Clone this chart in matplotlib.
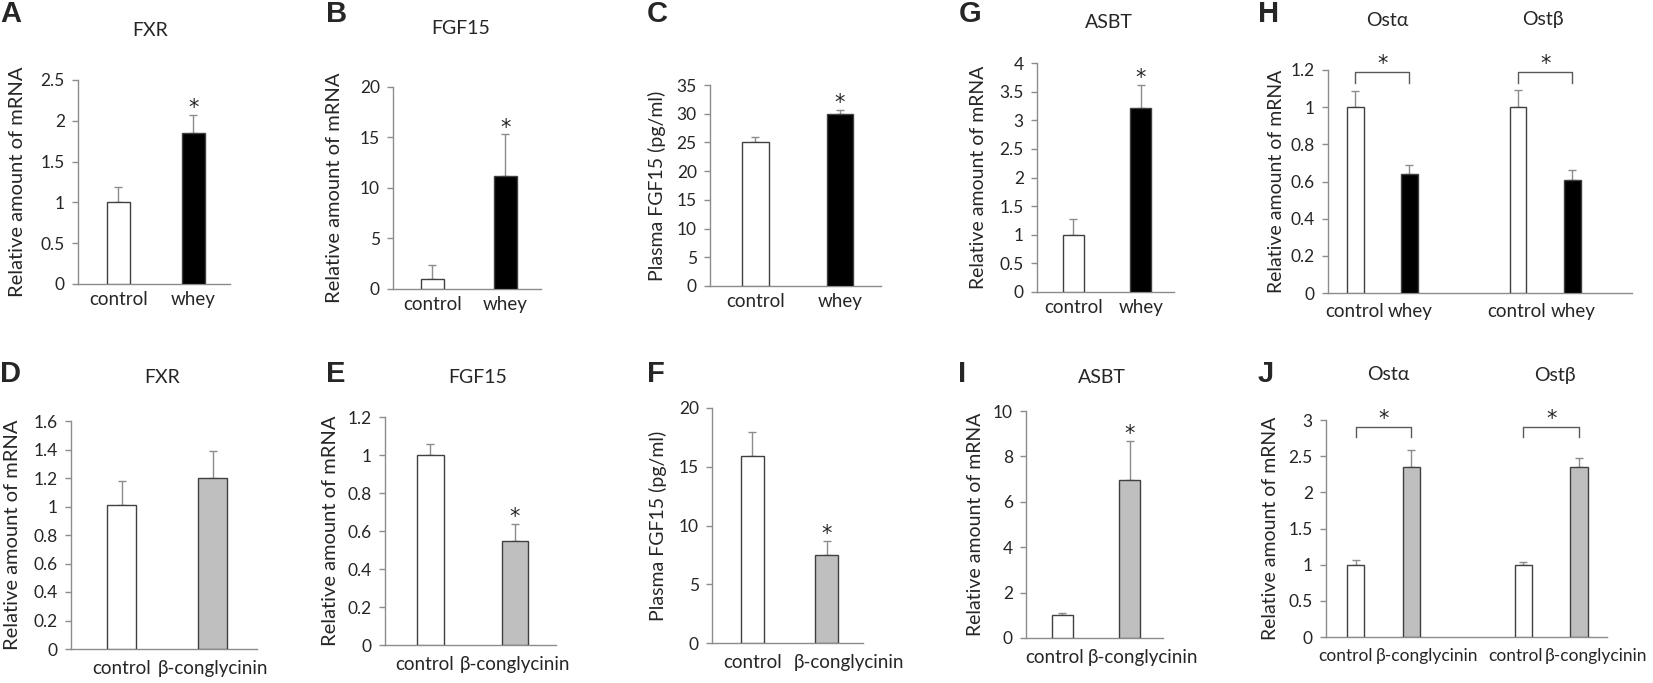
import matplotlib.pyplot as plt
from matplotlib.transforms import ScaledTranslation

plt.rcParams['font.family'] = ['Lato', 'DejaVu Sans']
plt.rcParams['text.color'] = '#262626'
plt.rcParams['axes.labelcolor'] = '#262626'
plt.rcParams['xtick.color'] = '#262626'
plt.rcParams['ytick.color'] = '#262626'

# ---- data ----
whey_groups = ['control', 'whey']
soy_groups = ['control', 'β-conglycinin']
ost_whey_groups = ['control', 'whey', 'control', 'whey']
ost_soy_groups = ['control', 'β-conglycinin', 'control', 'β-conglycinin']

fxr_whey = [1.0, 1.85]
fxr_whey_sem = [0.19, 0.22]
fgf15_whey = [1.0, 11.2]
fgf15_whey_sem = [1.4, 4.1]
plasma_whey = [25.0, 30.0]
plasma_whey_sem = [1.0, 0.6]
asbt_whey = [1.0, 3.21]
asbt_whey_sem = [0.27, 0.41]
ost_whey = [1.0, 0.64, 1.0, 0.61]
ost_whey_sem = [0.087, 0.048, 0.09, 0.054]

fxr_soy = [1.01, 1.2]
fxr_soy_sem = [0.17, 0.19]
fgf15_soy = [1.0, 0.545]
fgf15_soy_sem = [0.06, 0.09]
plasma_soy = [15.9, 7.45]
plasma_soy_sem = [2.1, 1.2]
asbt_soy = [1.0, 6.95]
asbt_soy_sem = [0.08, 1.72]
ost_soy = [1.0, 2.35, 1.0, 2.35]
ost_soy_sem = [0.07, 0.24, 0.03, 0.12]

fxr_whey_ticks = [0, 0.5, 1, 1.5, 2, 2.5]
fgf15_whey_ticks = [0, 5, 10, 15, 20]
plasma_whey_ticks = [0, 5, 10, 15, 20, 25, 30, 35]
asbt_whey_ticks = [0, 0.5, 1, 1.5, 2, 2.5, 3, 3.5, 4]
ost_whey_ticks = [0, 0.2, 0.4, 0.6, 0.8, 1, 1.2]
fxr_soy_ticks = [0, 0.2, 0.4, 0.6, 0.8, 1, 1.2, 1.4, 1.6]
fgf15_soy_ticks = [0, 0.2, 0.4, 0.6, 0.8, 1, 1.2]
plasma_soy_ticks = [0, 5, 10, 15, 20]
asbt_soy_ticks = [0, 2, 4, 6, 8, 10]
ost_soy_ticks = [0, 0.5, 1, 1.5, 2, 2.5, 3]

# significance brackets: (bar i, bar j, lower end, line level)
ost_whey_brackets = [(0, 1, 1.13, 1.19), (2, 3, 1.13, 1.19)]
ost_soy_brackets = [(0, 1, 2.76, 2.90), (2, 3, 2.76, 2.90)]

mrna_label = 'Relative amount of mRNA'
plasma_label = 'Plasma FGF15 (pg/ml)'

# ---- drawing ----
W, H = 1653, 683
fig = plt.figure(figsize=(W / 100, H / 100), dpi=100)

EDGE = '#404040'
AXIS = '#8c8c8c'
ERR = '#8c8c8c'
WHEY_COLORS = ['white', 'black']
SOY_COLORS = ['white', '#bfbfbf']


def star(ax, x, y, dy=5):
    ax.annotate('*', (x, y), xytext=(0, dy), textcoords='offset points',
                ha='center', va='center', fontsize=15, family='DejaVu Sans',
                annotation_clip=False)


def panel(rect, groups, means, sems, colors, yticks, ylabel, ylabel_x,
          pos=None, xlim=(-0.54, 1.49), stars=(), brackets=(), xpad=5,
          ylabel_size=14.5, shifts=None, xsize=13.5):
    l, t, r, b = rect
    ax = fig.add_axes([l / W, 1 - b / H, (r - l) / W, (b - t) / H])
    if pos is None:
        pos = list(range(len(means)))
    ax.bar(pos, means, width=0.31, color=colors, edgecolor=EDGE,
           linewidth=1, zorder=3)
    ax.errorbar(pos, means, yerr=[[0] * len(sems), sems], fmt='none',
                ecolor=ERR, elinewidth=1, capsize=3, capthick=1, zorder=2)
    ax.set_xlim(*xlim)
    ax.set_ylim(0, yticks[-1])
    ax.set_yticks(yticks, [f'{v:g}' for v in yticks])
    ax.set_xticks(pos, groups)
    ax.tick_params(axis='x', length=0, pad=xpad, labelsize=xsize)
    ax.tick_params(axis='y', length=4.5, width=1, color=AXIS, pad=5,
                   labelsize=12.5)
    if shifts:
        for lab, dx in zip(ax.get_xticklabels(), shifts):
            lab.set_transform(lab.get_transform()
                              + ScaledTranslation(dx / 100, 0, fig.dpi_scale_trans))
    for s in ('top', 'right'):
        ax.spines[s].set_visible(False)
    for s in ('left', 'bottom'):
        ax.spines[s].set_color(AXIS)
        ax.spines[s].set_linewidth(1)
    ax.set_ylabel(ylabel, fontsize=ylabel_size)
    ax.yaxis.label.set_va('center')
    ax.yaxis.set_label_coords((ylabel_x - l) / (r - l), 0.5)
    for i in stars:
        star(ax, pos[i], means[i] + sems[i])
    for i, j, low, high in brackets:
        ax.plot([pos[i], pos[i], pos[j], pos[j]], [low, high, high, low],
                color='#595959', lw=1, clip_on=False)
        star(ax, (pos[i] + pos[j]) / 2, high, dy=6)
    return ax


def title(x, y, text):
    fig.text(x / W, 1 - y / H, text, ha='center', va='center', fontsize=14)


def letter(x, y, text):
    fig.text(x / W, 1 - y / H, text, ha='left', va='center', fontsize=21,
             fontweight='bold', family='Liberation Sans')


ost_pos = [0, 1, 3, 4]

# top row: whey
panel((78, 80, 230, 284), whey_groups, fxr_whey, fxr_whey_sem, WHEY_COLORS,
      fxr_whey_ticks, mrna_label, 18, stars=[1])
panel((393, 87, 541, 289), whey_groups, fgf15_whey, fgf15_whey_sem, WHEY_COLORS,
      fgf15_whey_ticks, mrna_label, 335, stars=[1])
panel((710, 85, 881, 286), whey_groups, plasma_whey, plasma_whey_sem, WHEY_COLORS,
      plasma_whey_ticks, plasma_label, 657, stars=[1], ylabel_size=14)
panel((1037, 63, 1174, 292), whey_groups, asbt_whey, asbt_whey_sem, WHEY_COLORS,
      asbt_whey_ticks, mrna_label, 979, stars=[1], ylabel_size=14)
panel((1328, 70, 1632, 293), ost_whey_groups, ost_whey, ost_whey_sem,
      WHEY_COLORS * 2, ost_whey_ticks, mrna_label, 1276, pos=ost_pos,
      xlim=(-0.5, 5.1), brackets=ost_whey_brackets, xpad=7, ylabel_size=14,
      shifts=[-1, 1, -1, 1])

# bottom row: beta-conglycinin
panel((71, 421, 257, 649), soy_groups, fxr_soy, fxr_soy_sem, SOY_COLORS,
      fxr_soy_ticks, mrna_label, 13, xpad=8, xlim=(-0.556, 1.489))
panel((385, 417, 556, 645), soy_groups, fgf15_soy, fgf15_soy_sem, SOY_COLORS,
      fgf15_soy_ticks, mrna_label, 331, stars=[1], xpad=8, shifts=[-6, 0])
panel((712, 408, 863, 643), soy_groups, plasma_soy, plasma_soy_sem, SOY_COLORS,
      plasma_soy_ticks, plasma_label, 658, stars=[1], xpad=8, ylabel_size=14,
      shifts=[0, 22])
panel((1026, 411, 1163, 638), soy_groups, asbt_soy, asbt_soy_sem, SOY_COLORS,
      asbt_soy_ticks, mrna_label, 976, stars=[1], xpad=8, ylabel_size=14,
      shifts=[-8, 13])
panel((1326, 420, 1607, 637), ost_soy_groups, ost_soy, ost_soy_sem,
      SOY_COLORS * 2, ost_soy_ticks, mrna_label, 1270, pos=ost_pos,
      xlim=(-0.53, 4.5), brackets=ost_soy_brackets, xpad=8, ylabel_size=14,
      shifts=[-10, 16, -8, 17], xsize=12.5)

# panel titles and letters
title(150, 31, 'FXR')
title(461, 29, 'FGF15')
title(1109, 23, 'ASBT')
title(1387, 20, 'Ostα')
title(1543, 20, 'Ostβ')
title(162, 377, 'FXR')
title(478, 377, 'FGF15')
title(1102, 377, 'ASBT')
title(1388, 375, 'Ostα')
title(1555, 375, 'Ostβ')

for x, y, s in [(0, 14, 'A'), (326, 14, 'B'), (647, 14, 'C'), (959, 14, 'G'),
                (1258, 14, 'H'), (0, 374, 'D'), (326, 374, 'E'), (647, 374, 'F'),
                (958, 374, 'I'), (1258, 374, 'J')]:
    letter(x, y, s)

fig.savefig('out.png', dpi=100)
